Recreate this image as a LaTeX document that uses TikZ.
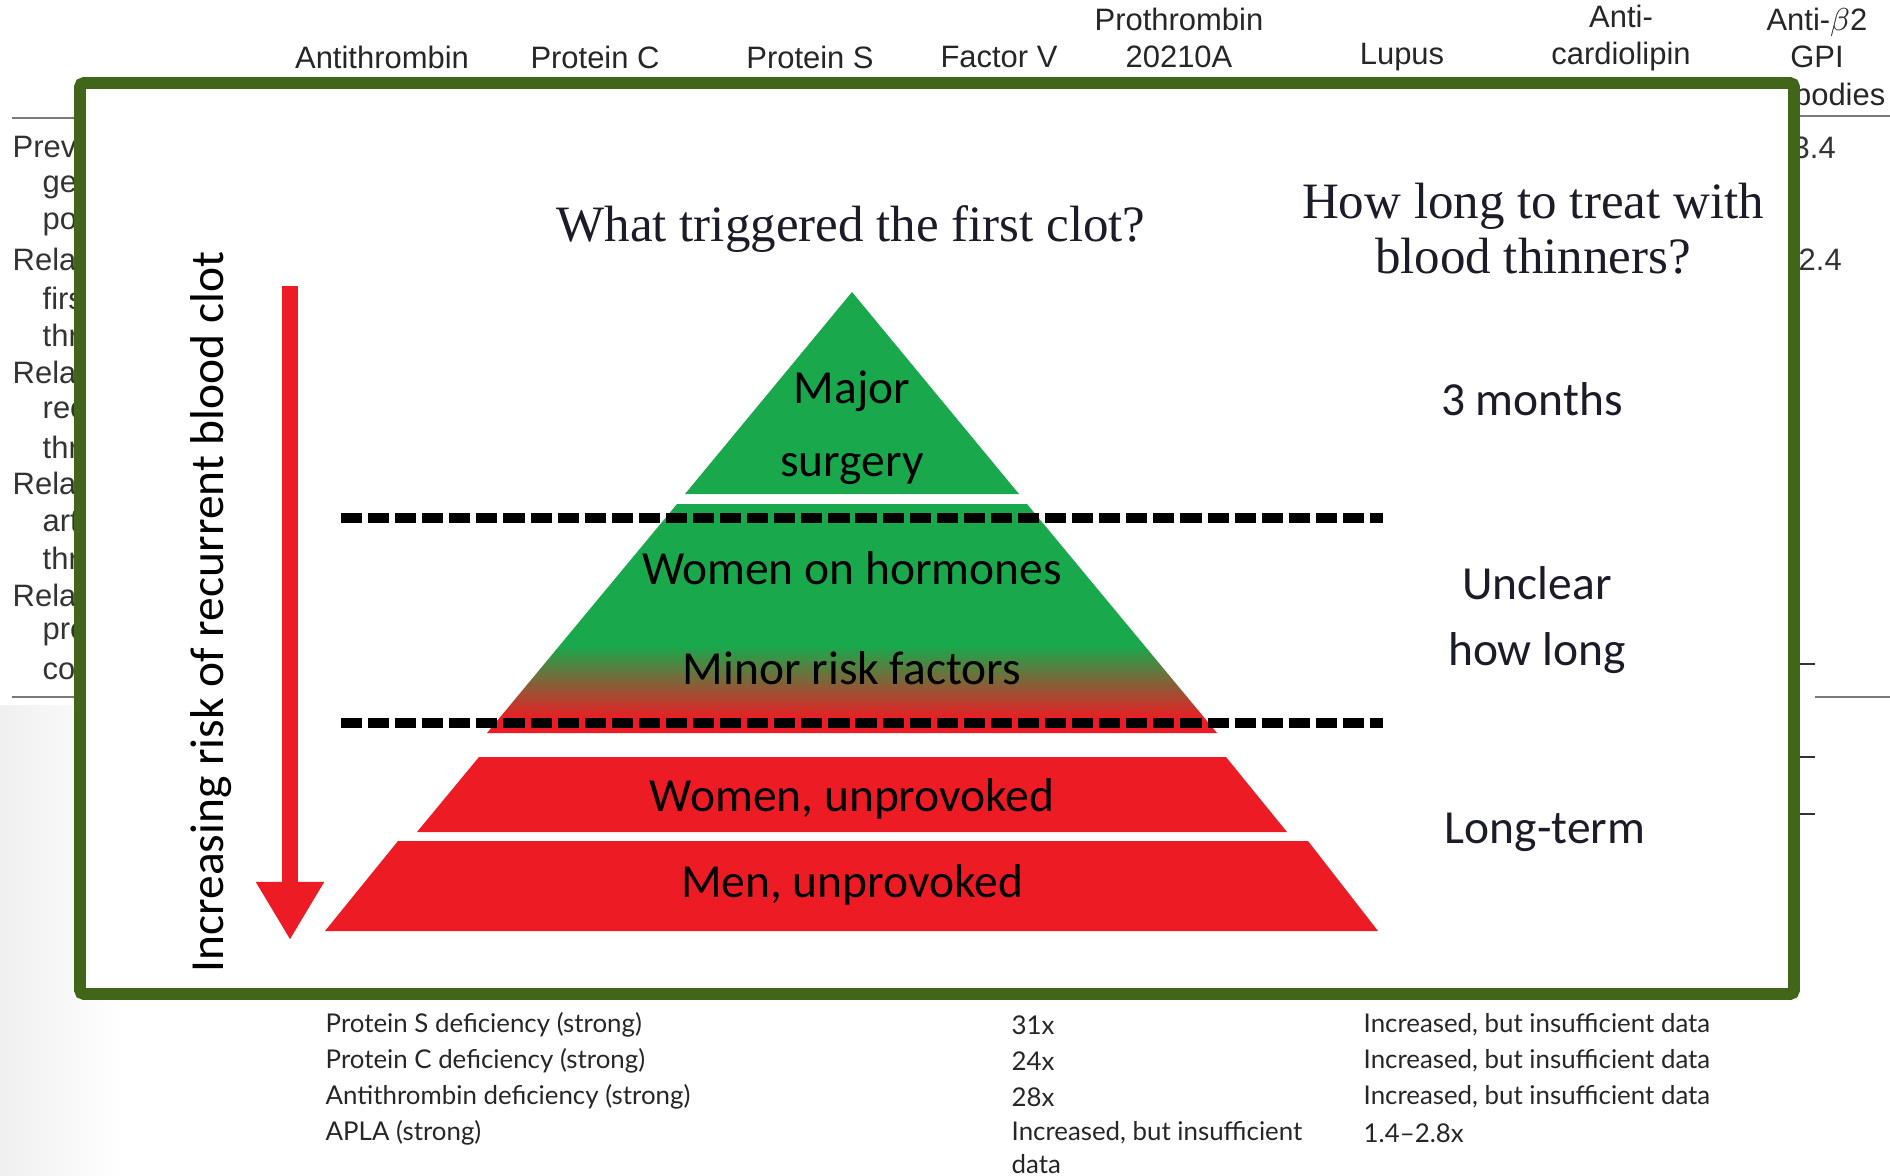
\documentclass[tikz,border=0pt]{standalone}
\usepackage{fontspec}
\setmainfont{Carlito}
\newfontfamily\titlefont{Liberation Serif}
\newfontfamily\tablefont{Liberation Sans}
\newfontfamily\rowfont{Lato}
\usetikzlibrary{arrows.meta}
\definecolor{FrameGreen}{HTML}{41661A}
\definecolor{RiskGreen}{HTML}{19A84C}
\definecolor{RiskRed}{HTML}{ED1C24}
\definecolor{Ink}{HTML}{1C1C28}
\definecolor{Rule}{HTML}{7A7A7A}
\pgfdeclareverticalshading{minorfade}{100bp}{color(0bp)=(RiskRed); color(28bp)=(RiskRed); color(44bp)=(RiskGreen); color(100bp)=(RiskGreen)}
\tikzset{
  colhead/.style={font=\tablefont\fontsize{8.8}{10.5}\selectfont,align=center,text=black!85,inner sep=0pt},
  rowhead/.style={font=\tablefont\fontsize{8.8}{10}\selectfont,anchor=west,text=black!80,inner sep=0pt},
  tablecell/.style={font=\rowfont\fontsize{7.35}{9}\selectfont,anchor=west,text=black!85,inner sep=0pt},
  question/.style={font=\titlefont\fontsize{14.5}{15.6}\selectfont,align=center,text=Ink,inner sep=0pt},
  tier/.style={font=\fontsize{13.5}{20.8}\selectfont,align=center,inner sep=0pt},
  duration/.style={font=\fontsize{13.5}{18.8}\selectfont,align=center,text=Ink,inner sep=0pt},
  cutline/.style={line width=2.9pt,dash pattern=on 6pt off 1.7pt},
  riskarrow/.style={draw=RiskRed,line width=4.8pt,-{Triangle[width=18.2pt,length=16.5pt]}},
  stub/.style={line width=0.6pt,black!80},
  tablerule/.style={line width=0.6pt,Rule}
}
\begin{document}
\begin{tikzpicture}[x=0.01cm,y=-0.01cm]
  \useasboundingbox (0,0) rectangle (1890,1176);
  % page of the table behind the slide
  \shade[left color=black!6,right color=white] (0,705) rectangle (125,1176);
  \node[colhead] (hAT) at (382,57) {Antithrombin};
  \node[colhead] (hPC) at (595,57) {Protein C};
  \node[colhead] (hPS) at (810,57) {Protein S};
  \node[colhead] (hFV) at (999,57) {Factor V};
  \node[colhead] (hPT) at (1179,38) {Prothrombin\\20210A};
  \node[colhead] (hLA) at (1402,57) {Lupus};
  \node[colhead] (hAC) at (1621,38) {Anti-\\cardiolipin};
  \node[colhead] (hB2) at (1817,38) {Anti-$\beta$2\\GPI};
  \node[colhead,anchor=east] (hAB) at (1886,94) {bodies};
  \draw[tablerule] (12,118) -- (80,118);
  \draw[tablerule] (1800,116) -- (1890,116);
  \draw[tablerule] (12,697) -- (80,697);
  \draw[tablerule] (1815,697) -- (1890,697);
  \node[rowhead] (r1) at (12,147) {Preva};
  \node[rowhead] (r2) at (42,187) {ge};
  \node[rowhead] (r3) at (42,224) {po};
  \node[rowhead] (r4) at (12,259) {Relat};
  \node[rowhead] (r5) at (42,298) {firs};
  \node[rowhead] (r6) at (42,335) {thr};
  \node[rowhead] (r7) at (12,372) {Relat};
  \node[rowhead] (r8) at (42,410) {rec};
  \node[rowhead] (r9) at (42,447) {thr};
  \node[rowhead] (r10) at (12,483) {Relat};
  \node[rowhead] (r11) at (42,522) {art};
  \node[rowhead] (r12) at (42,558) {thr};
  \node[rowhead] (r13) at (12,595) {Relat};
  \node[rowhead] (r14) at (42,634) {pre};
  \node[rowhead] (r15) at (42,671) {co};
  \node[rowhead] (v1) at (1792,148) {3.4};
  \node[rowhead] (v2) at (1798,260) {2.4};
  \draw[stub] (1794,664) -- (1815,664);
  \draw[stub] (1794,757) -- (1815,757);
  \draw[stub] (1794,814) -- (1815,814);
  \node[tablecell] (ps) at (325,1025) {Protein S deficiency (strong)};
  \node[tablecell] (pc) at (325,1061) {Protein C deficiency (strong)};
  \node[tablecell] (at) at (325,1097) {Antithrombin deficiency (strong)};
  \node[tablecell] (apla) at (325,1133) {APLA (strong)};
  \node[tablecell] (ps2) at (1011,1025) {31x};
  \node[tablecell] (pc2) at (1011,1061) {24x};
  \node[tablecell] (at2) at (1011,1097) {28x};
  \node[tablecell,anchor=north west,align=left,font=\rowfont\fontsize{7.35}{9.2}\selectfont] (apla2) at (1011,1121) {Increased, but insufficient\\data};
  \node[tablecell] (ps3) at (1363,1025) {Increased, but insufficient data};
  \node[tablecell] (pc3) at (1363,1061) {Increased, but insufficient data};
  \node[tablecell] (at3) at (1363,1097) {Increased, but insufficient data};
  \node[tablecell] (apla3) at (1363,1133) {1.4–2.8x};
  % the slide on top
  \draw[FrameGreen,line width=3.4pt,rounded corners=1.2pt,fill=white] (80,83) rectangle (1794,994);
  \node[question] (trigger) at (851,229) {What triggered the first clot?};
  \node[question] (howlong) at (1533,229) {How long to treat with\\blood thinners?};
  \node[rotate=90,font=\fontsize{13.5}{16}\selectfont,inner sep=0pt] (riskaxis) at (211,612) {Increasing risk of recurrent blood clot};
  \coordinate (arrowtop) at (290,286);
  \coordinate (arrowtip) at (290,940);
  \draw[riskarrow] (arrowtop) -- (arrowtip);
  % pyramid, top to bottom
  \fill[RiskGreen] (852,292) -- (1019,494) -- (685,494) -- cycle;
  \path[shading=minorfade] (677,504) -- (1027,504) -- (1217,733) -- (487,733) -- cycle;
  \fill[RiskRed] (479,757) -- (1226,757) -- (1287,832) -- (417,832) -- cycle;
  \fill[RiskRed] (398,841) -- (1308,841) -- (1378,931) -- (325,931) -- cycle;
  \draw[cutline] (341,518) -- (1383,518);
  \draw[cutline] (341,723) -- (1383,723);
  \node[tier] (major) at (852,428) {Major\\surgery};
  \node[tier] (hormones) at (852,568) {Women on hormones};
  \node[tier] (minor) at (852,668) {Minor risk factors};
  \node[tier] (women) at (852,799) {Women, unprovoked};
  \node[tier] (men) at (852,885) {Men, unprovoked};
  \node[duration] (threemonths) at (1532,399) {3 months};
  \node[duration] (unclear) at (1537,620) {Unclear\\how long};
  \node[duration] (longterm) at (1545,832) {Long-term};
\end{tikzpicture}
\end{document}
